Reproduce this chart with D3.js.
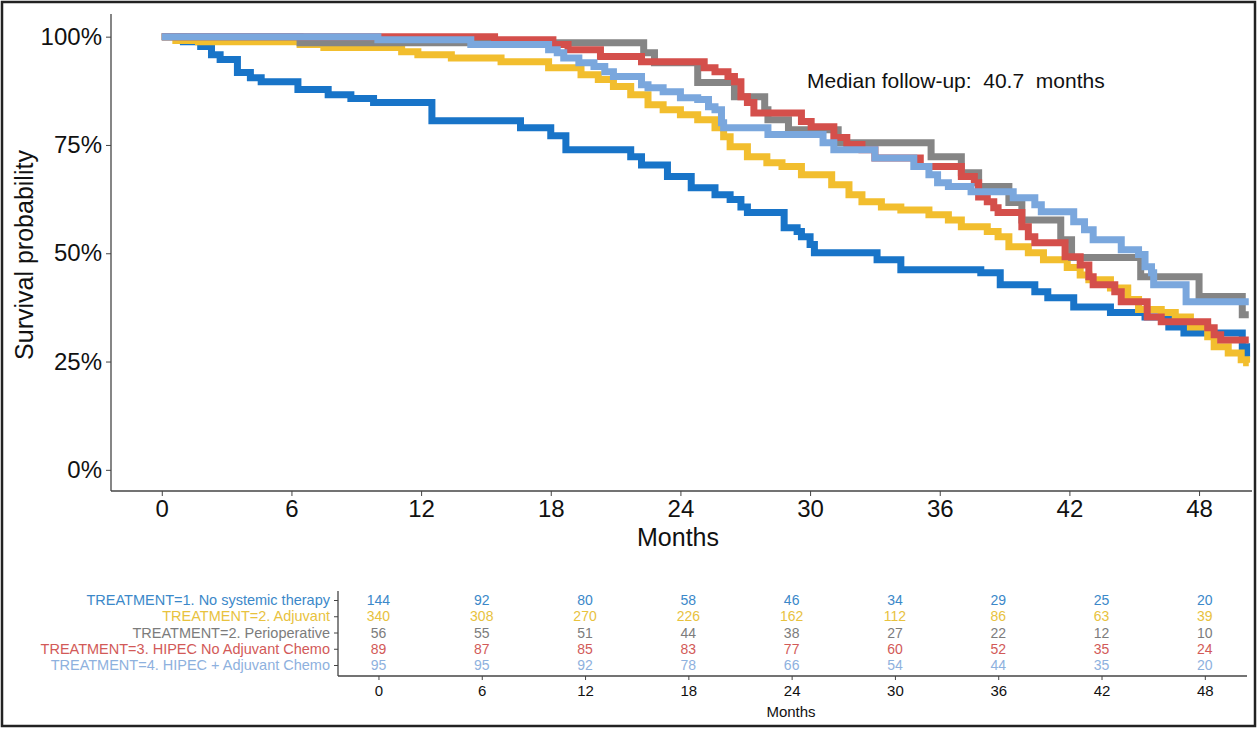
<!DOCTYPE html>
<html>
<head>
<meta charset="utf-8">
<script src="https://cdn.jsdelivr.net/npm/d3@7"></script>
<style>
  body { margin: 0; background: #fff; }
  svg { display: block; font-family: "Liberation Sans", Arial, sans-serif; }
</style>
</head>
<body>
<svg id="chart" width="1258" height="729"></svg>
<script>
// data: Kaplan-Meier steps [month, survival]
var noSystemic = [[0,1],[1.0,0.988],[1.8,0.977],[2.3,0.958],[2.7,0.947],[3.5,0.917],[4.1,0.905],[4.6,0.896],
  [6.3,0.878],[7.7,0.866],[8.75,0.857],[9.8,0.848],[12.5,0.806],[16.6,0.79],[18.0,0.771],[18.7,0.739],
  [21.7,0.723],[22.2,0.704],[23.4,0.677],[24.5,0.651],[25.6,0.635],[26.3,0.624],[26.8,0.607],[27.1,0.594],
  [28.8,0.559],[29.4,0.55],[29.6,0.538],[30.0,0.52],[30.2,0.501],[33.1,0.485],[34.2,0.462],[37.9,0.455],
  [38.8,0.427],[40.4,0.411],[41.0,0.397],[42.2,0.376],[43.9,0.363],[45.5,0.353],[46.6,0.33],[47.3,0.316],
  [50.0,0.284],[50.2,0.261],[50.3,0.261]];
var adjuvant = [[0,1],[0.65,0.991],[1.7,0.988],[6.4,0.982],[7.5,0.975],[11.1,0.965],[11.85,0.958],[13.4,0.951],
  [15.7,0.942],[17.9,0.928],[19.4,0.912],[20.2,0.901],[20.9,0.885],[21.7,0.866],[22.5,0.843],[23.2,0.831],
  [24.0,0.82],[24.8,0.808],[25.6,0.79],[26.0,0.769],[26.3,0.746],[27.1,0.723],[28.0,0.709],[28.7,0.70],
  [29.6,0.681],[31.0,0.658],[31.8,0.635],[32.4,0.619],[33.3,0.607],[34.2,0.60],[35.5,0.589],[36.4,0.577],
  [37.0,0.561],[38.2,0.55],[38.7,0.538],[39.2,0.515],[40.1,0.501],[40.8,0.485],[41.9,0.467],[42.5,0.45],
  [42.9,0.439],[43.9,0.42],[44.7,0.393],[45.2,0.37],[46.25,0.363],[46.9,0.353],[47.6,0.33],[48.4,0.307],
  [48.7,0.284],[49.35,0.27],[49.95,0.254],[50.2,0.247],[50.3,0.247]];
var perioperative = [[0,1],[6.4,0.986],[22.3,0.963],[22.8,0.94],[24.8,0.894],[26.5,0.861],[27.9,0.831],
  [28.05,0.808],[29.0,0.785],[31.3,0.755],[35.6,0.723],[37.0,0.686],[37.8,0.654],[39.2,0.617],[39.8,0.577],
  [41.6,0.531],[42.1,0.49],[45.3,0.446],[48.0,0.40],[50.0,0.358],[50.3,0.358]];
var hipecNoAdj = [[0,1],[15.4,0.993],[18.1,0.982],[18.8,0.97],[20.3,0.954],[22.2,0.942],[25.1,0.928],
  [25.6,0.919],[26.2,0.908],[26.5,0.896],[26.8,0.861],[27.1,0.848],[27.4,0.824],[29.6,0.804],[30.05,0.792],
  [31.1,0.767],[31.7,0.751],[32.4,0.739],[33.0,0.72],[35.1,0.70],[37.0,0.677],[37.6,0.663],[37.8,0.63],
  [38.2,0.619],[38.5,0.605],[38.7,0.594],[39.8,0.561],[40.1,0.538],[40.4,0.524],[41.8,0.492],[42.5,0.473],
  [42.9,0.446],[43.1,0.427],[44.1,0.411],[44.4,0.388],[45.6,0.353],[46.25,0.342],[48.4,0.328],[48.7,0.312],
  [49.0,0.30],[50.3,0.30]];
var hipecAdj = [[0,1],[10.0,0.993],[14.3,0.982],[17.9,0.97],[18.3,0.963],[18.6,0.951],[19.3,0.94],[20.0,0.931],
  [20.5,0.919],[20.9,0.908],[22.2,0.889],[22.5,0.882],[23.2,0.873],[24.0,0.859],[24.8,0.855],[25.3,0.838],
  [25.6,0.831],[25.9,0.801],[26.0,0.79],[28.05,0.774],[30.6,0.755],[31.1,0.739],[33.0,0.72],[34.8,0.70],
  [35.5,0.681],[35.9,0.663],[36.4,0.654],[37.45,0.642],[39.4,0.628],[40.4,0.612],[40.7,0.596],[42.2,0.573],
  [42.7,0.554],[43.1,0.531],[44.4,0.508],[45.2,0.497],[45.5,0.469],[45.8,0.455],[45.9,0.427],[47.4,0.388],
  [50.3,0.388]];

var groupNames = ["TREATMENT=1. No systemic therapy", "TREATMENT=2. Adjuvant", "TREATMENT=2. Perioperative",
  "TREATMENT=3. HIPEC No Adjuvant Chemo", "TREATMENT=4. HIPEC + Adjuvant Chemo"];
var lineColors = ["#1874c8", "#f2be2e", "#858585", "#d44f4b", "#7aa7dd"];
var textColors = ["#3b88c9", "#e8c23e", "#7c7c7c", "#d25a58", "#8eb1de"];
var riskTimes = [0, 6, 12, 18, 24, 30, 36, 42, 48];
var atRisk = [
  [144, 92, 80, 58, 46, 34, 29, 25, 20],
  [340, 308, 270, 226, 162, 112, 86, 63, 39],
  [56, 55, 51, 44, 38, 27, 22, 12, 10],
  [89, 87, 85, 83, 77, 60, 52, 35, 24],
  [95, 95, 92, 78, 66, 54, 44, 35, 20]
];
var yTicks = [0, 0.25, 0.5, 0.75, 1];
var curves = [noSystemic, adjuvant, perioperative, hipecNoAdj, hipecAdj];

var svg = d3.select('#chart');
var font = '"Liberation Sans", Arial, sans-serif';

// outer frame
svg.append('rect').attr('x', 2).attr('y', 2).attr('width', 1253).attr('height', 724)
  .attr('fill', 'none').attr('stroke', '#222').attr('stroke-width', 2.5);

// scales for survival plot
var xDomain = [-2.35, 50.45];
var xScale = d3.scaleLinear().domain(xDomain).range([111, 1252]);
var yScale = d3.scaleLinear().domain([-0.05, 1.05]).range([491.5, 15]);

// curves
var line = d3.line()
  .x(function(d){ return xScale(d[0]); })
  .y(function(d){ return yScale(d[1]); })
  .curve(d3.curveStepAfter);

svg.append('g').selectAll('path')
  .data(curves)
  .enter().append('path')
  .attr('d', line)
  .attr('fill', 'none')
  .attr('stroke', function(d, i){ return lineColors[i]; })
  .attr('stroke-width', 7)
  .attr('stroke-linejoin', 'miter');

// axes
var xAxis = d3.axisBottom(xScale).tickValues(riskTimes).tickSize(5).tickPadding(4);
var yAxis = d3.axisLeft(yScale).tickValues(yTicks).tickSize(5).tickPadding(4)
  .tickFormat(d3.format('.0%'));

var gx = svg.append('g')
  .attr('transform', 'translate(' + [0, 491] + ')')
  .call(xAxis);
gx.select('.domain').attr('d', 'M111,0H1252').attr('stroke', '#444').attr('stroke-width', 1.3);
gx.selectAll('.tick line').attr('stroke', '#444');
gx.selectAll('.tick text').attr('font-size', 24).attr('fill', '#111').attr('font-family', font);

var gy = svg.append('g')
  .attr('transform', 'translate(' + [111, 0] + ')')
  .call(yAxis);
gy.select('.domain').attr('d', 'M0,14V491').attr('stroke', '#444').attr('stroke-width', 1.3);
gy.selectAll('.tick line').attr('stroke', '#444');
gy.selectAll('.tick text').attr('font-size', 24).attr('fill', '#111').attr('font-family', font);

svg.append('text').attr('x', 678).attr('y', 546).attr('text-anchor', 'middle')
  .attr('font-size', 25).attr('fill', '#111').text('Months');
svg.append('text').attr('transform', 'translate(33,255) rotate(-90)').attr('text-anchor', 'middle')
  .attr('font-size', 25).attr('fill', '#111').text('Survival probability');

svg.append('text').attr('x', 807).attr('y', 88).attr('font-size', 21).attr('fill', '#111')
  .style('white-space', 'pre')
  .text('Median follow-up:  40.7  months');

// risk table
var tx = d3.scaleLinear().domain(xDomain).range([338, 1247]);
var rowY = d3.scalePoint().domain(d3.range(5)).range([600, 665]);

var rows = svg.append('g').selectAll('g')
  .data(atRisk)
  .enter().append('g')
  .attr('fill', function(d, i){ return textColors[i]; })
  .attr('transform', function(d, i){ return 'translate(0,' + (rowY(i) + 5) + ')'; });

rows.selectAll('text')
  .data(function(d){ return d; })
  .enter().append('text')
  .attr('x', function(d, j){ return tx(riskTimes[j]); })
  .attr('text-anchor', 'middle')
  .attr('font-size', 14)
  .text(function(d){ return d; });

var ty = d3.axisLeft(rowY).tickSize(4).tickPadding(4).tickFormat(function(i){ return groupNames[i]; });
var gty = svg.append('g').attr('transform', 'translate(' + [338, 0] + ')').call(ty);
gty.select('.domain').attr('d', 'M0,591V676').attr('stroke', '#444').attr('stroke-width', 1.3);
gty.selectAll('.tick line').attr('stroke', '#444');
gty.selectAll('.tick text').attr('font-size', 14.5).attr('font-family', font)
  .attr('fill', function(i){ return textColors[i]; });

var txAxis = d3.axisBottom(tx).tickValues(riskTimes).tickSize(4).tickPadding(5);
var gtx = svg.append('g').attr('transform', 'translate(' + [0, 676] + ')').call(txAxis);
gtx.select('.domain').attr('d', 'M338,0H1247').attr('stroke', '#444').attr('stroke-width', 1.3);
gtx.selectAll('.tick line').attr('stroke', '#444');
gtx.selectAll('.tick text').attr('font-size', 15).attr('fill', '#111').attr('font-family', font);

svg.append('text').attr('x', 791).attr('y', 717).attr('text-anchor', 'middle')
  .attr('font-size', 15).attr('fill', '#111').text('Months');
</script>
</body>
</html>
